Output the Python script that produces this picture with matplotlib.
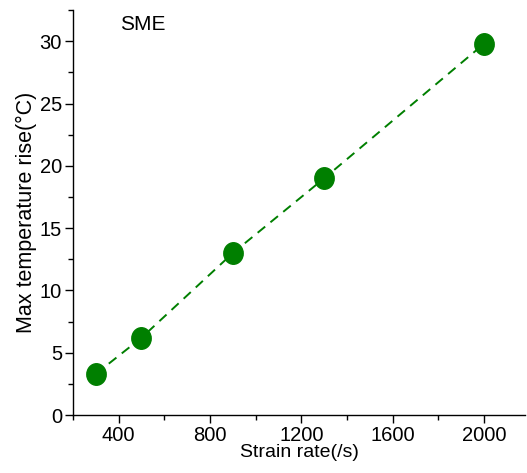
import matplotlib
matplotlib.use("Agg")
import matplotlib.pyplot as plt
from matplotlib.path import Path
from matplotlib.transforms import Affine2D
from matplotlib.ticker import MultipleLocator

plt.rcParams['font.family'] = ['Liberation Sans', 'DejaVu Sans']

strain_rate = [300, 500, 900, 1300, 2000]
temp_rise = [3.3, 6.2, 13.0, 19.0, 29.8]
x_ticks = [400, 800, 1200, 1600, 2000]
y_ticks = [0, 5, 10, 15, 20, 25, 30]

fig = plt.figure(figsize=(5.27, 4.73), dpi=100)
ax = fig.add_axes([0.1385, 0.1226, 0.858, 0.856])

oval = Path.unit_circle().transformed(Affine2D().scale(0.9, 1.0))
ax.plot(strain_rate, temp_rise, linestyle=(0, (5, 3.5)), color='#007f00', lw=1.4,
        marker=oval, markersize=15.5, markerfacecolor='#007f00',
        markeredgecolor='#007f00')

ax.set_xlim(200, 2180)
ax.set_ylim(0, 32.5)
ax.set_xticks(x_ticks)
ax.set_yticks(y_ticks)
ax.xaxis.set_minor_locator(MultipleLocator(200))
ax.yaxis.set_minor_locator(MultipleLocator(2.5))
ax.tick_params(which='major', direction='out', length=6, width=1, pad=2,
               labelsize=14.5)
ax.tick_params(which='minor', direction='out', length=3.5, width=1)
for s in ('top', 'right'):
    ax.spines[s].set_visible(False)
for s in ('left', 'bottom'):
    ax.spines[s].set_linewidth(1)

ax.set_xlabel('Strain rate(/s)', fontsize=14, labelpad=-1)
ax.set_ylabel('Max temperature rise(°C)', fontsize=15.5, labelpad=2)
ax.text(0.103, 0.988, 'SME', transform=ax.transAxes, fontsize=15,
        va='top', ha='left')

fig.savefig('out.png', dpi=100)
